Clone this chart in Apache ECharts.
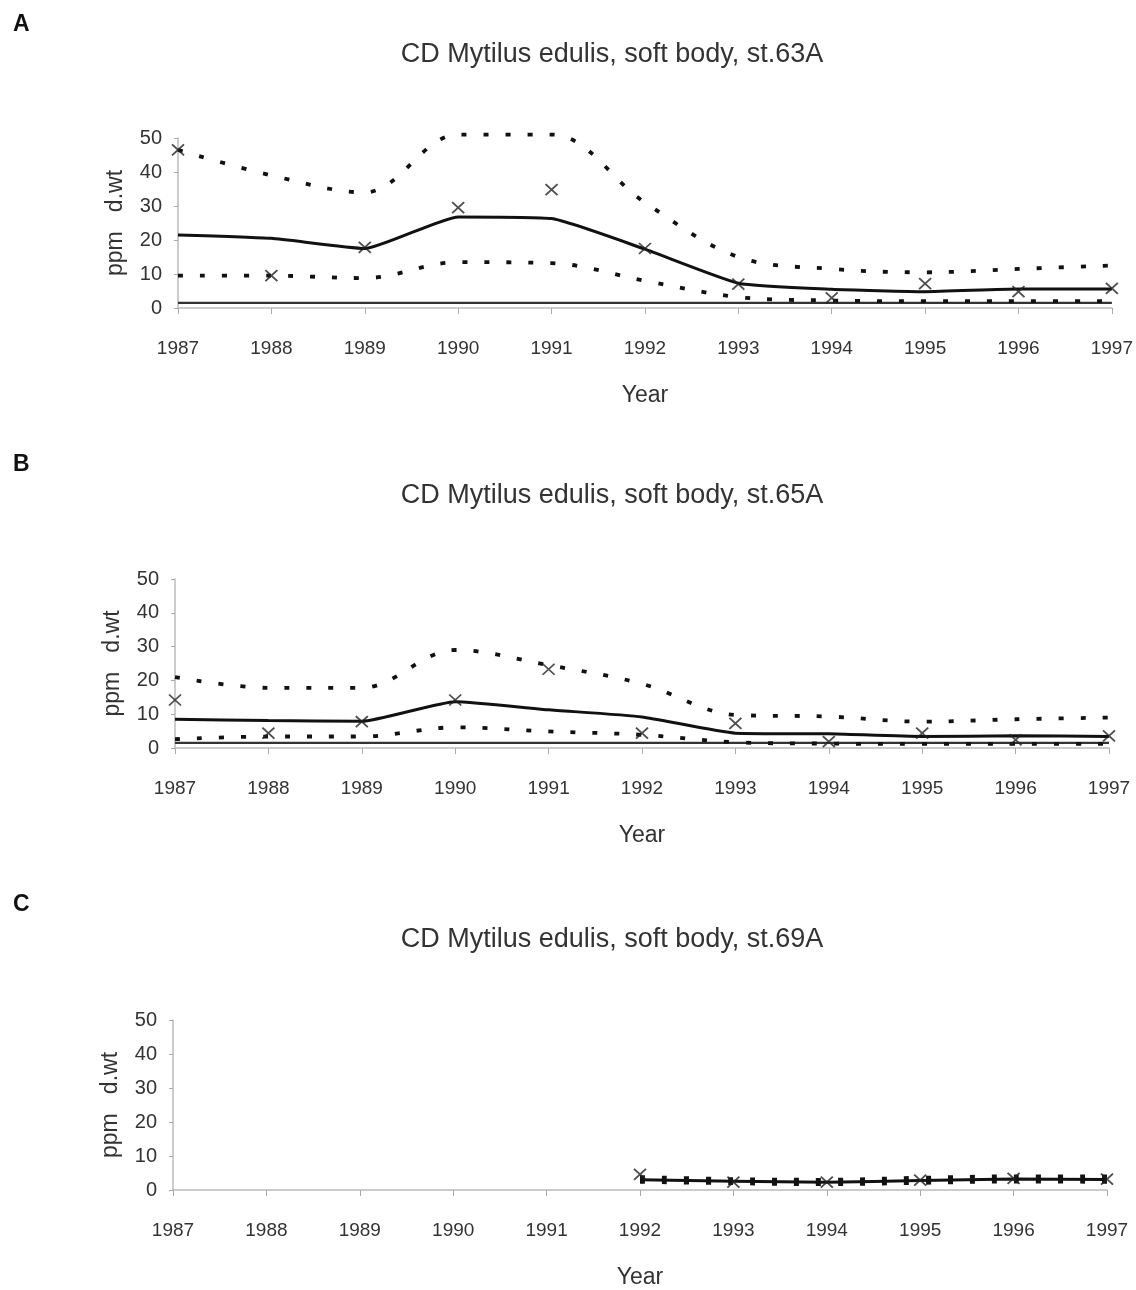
<!DOCTYPE html>
<html>
<head>
<meta charset="utf-8">
<script src="https://cdn.jsdelivr.net/npm/echarts@6/dist/echarts.min.js"></script>
<style>
html,body{margin:0;padding:0;background:#fff;}
#chart{width:1136px;height:1290px;}
</style>
</head>
<body>
<div id="chart"></div>
<script>
// ---- data ----
const years = ['1987','1988','1989','1990','1991','1992','1993','1994','1995','1996','1997'];
const yTicks = [0, 10, 20, 30, 40, 50];

const panelLetters = ['A', 'B', 'C'];
const panelTitles = [
  'CD Mytilus edulis, soft body, st.63A',
  'CD Mytilus edulis, soft body, st.65A',
  'CD Mytilus edulis, soft body, st.69A'
];

// Panel A (st.63A)
const upperA = [46.5, 39, 34, 51, 51, 31, 15, 11.5, 10.5, 11.5, 12.5];
const meanA  = [21.5, 20.5, 17.5, 26.8, 26.3, 17.3, 7.3, 5.5, 4.8, 5.6, 5.6];
const lowerA = [9.5, 9.5, 8.8, 13.5, 13.2, 8, 3.2, 2.2, 2, 2, 2];
const obsA   = [46.5, 9.5, 17.8, 29.5, 34.8, 17.5, 7, 3, 7.2, 4.8, 5.8];
const refA   = [1.5, 1.5, 1.5, 1.5, 1.5, 1.5, 1.5, 1.5, 1.5, 1.5, 1.5];

// Panel B (st.65A)
const upperB = [21, 17.8, 17.8, 29, 24.5, 19, 9.8, 9.3, 7.8, 8.5, 9];
const meanB  = [8.5, 8.1, 7.9, 13.7, 11.3, 9.2, 4.4, 4.2, 3.4, 3.6, 3.4];
const lowerB = [2.6, 3.4, 3.4, 6.1, 4.9, 3.9, 1.7, 1.3, 1.2, 1.2, 1.2];
const obsB   = [14.2, 4.4, 7.8, 14.2, 23.3, 4.4, 7.3, 1.9, 4.4, 2.4, 3.6];
const refB   = [1.5, 1.5, 1.5, 1.5, 1.5, 1.5, 1.5, 1.5, 1.5, 1.5, 1.5];

// Panel C (st.69A) - data only from 1992
const upperC = [null, null, null, null, null, 3.8, 3.2, 3.0, 3.6, 4.0, 4.0];
const meanC  = [null, null, null, null, null, 3.0, 2.6, 2.3, 2.8, 3.2, 3.1];
const lowerC = [null, null, null, null, null, 2.4, 2.0, 1.7, 2.1, 2.5, 2.4];
const obsC   = [null, null, null, null, null, 4.6, 2.3, 2.3, 2.9, 3.4, 3.2];

// ---- layout (styles only) ----
const FONT = "'Liberation Sans', Arial, sans-serif";
const grids = [
  {left: 178, width: 934, top: 138, height: 170},
  {left: 175, width: 934, top: 579, height: 169},
  {left: 173, width: 934, top: 1020, height: 172}
];
const letterY = [25, 465, 905];
const titleY = [55, 496, 940];

const panels = [
  {upper: upperA, mean: meanA, lower: lowerA, obs: obsA, ref: refA},
  {upper: upperB, mean: meanB, lower: lowerB, obs: obsB, ref: refB},
  {upper: upperC, mean: meanC, lower: lowerC, obs: obsC, ref: null}
];

const xAxes = [], yAxes = [], series = [], graphics = [];
const xPath = 'path://M0,0L10,10M10,0L0,10';

panels.forEach((p, i) => {
  xAxes.push({
    gridIndex: i, type: 'category', data: years, boundaryGap: false,
    name: 'Year', nameLocation: 'middle', nameGap: 76,
    nameTextStyle: {fontFamily: FONT, fontSize: 23, color: '#333'},
    axisLine: {show: true, lineStyle: {color: '#bbb', width: 1.5}},
    axisTick: {show: true, length: 6, lineStyle: {color: '#aaa'}},
    axisLabel: {fontFamily: FONT, fontSize: 19, color: '#333', margin: 31},
    splitLine: {show: false}
  });
  yAxes.push({
    gridIndex: i, type: 'value', min: yTicks[0], max: yTicks[yTicks.length - 1], interval: 10,
    name: 'ppm   d.wt', nameLocation: 'middle', nameGap: 51, nameRotate: 90,
    nameTextStyle: {fontFamily: FONT, fontSize: 23, color: '#333'},
    axisLine: {show: true, lineStyle: {color: '#bbb', width: 1.5}},
    axisTick: {show: true, length: 4, lineStyle: {color: '#aaa'}},
    axisLabel: {fontFamily: FONT, fontSize: 20, color: '#333', margin: 16},
    splitLine: {show: false}
  });
  const dashed = {color: '#111', width: 3.8, type: [5, 17], cap: 'butt'};
  series.push({
    type: 'line', xAxisIndex: i, yAxisIndex: i, data: p.upper, smooth: 0.35, clip: false,
    showSymbol: false, lineStyle: dashed, z: 3
  });
  series.push({
    type: 'line', xAxisIndex: i, yAxisIndex: i, data: p.lower, smooth: 0.35, clip: false,
    showSymbol: false, lineStyle: dashed, z: 3
  });
  series.push({
    type: 'line', xAxisIndex: i, yAxisIndex: i, data: p.mean, smooth: 0.15, clip: false,
    showSymbol: false, lineStyle: {color: '#111', width: 3}, z: 4
  });
  if (p.ref) {
    series.push({
      type: 'line', xAxisIndex: i, yAxisIndex: i, data: p.ref,
      showSymbol: false, lineStyle: {color: '#333', width: 2.2}, z: 2
    });
  }
  series.push({
    type: 'scatter', xAxisIndex: i, yAxisIndex: i, data: p.obs, clip: false,
    symbol: xPath, symbolSize: [12, 11],
    itemStyle: {color: 'rgba(0,0,0,0)', borderColor: '#222', borderWidth: 1.8}, z: 5
  });
  graphics.push({
    type: 'text', x: 13, y: letterY[i],
    style: {text: panelLetters[i], font: "bold 23px 'Liberation Sans', Arial, sans-serif", fill: '#111', textVerticalAlign: 'middle'}
  });
  graphics.push({
    type: 'text', x: 612, y: titleY[i],
    style: {text: panelTitles[i], font: "27px " + FONT, fill: '#333', textAlign: 'center', textVerticalAlign: 'middle'}
  });
});

const chart = echarts.init(document.getElementById('chart'), null, {renderer: 'canvas'});
chart.setOption({
  animation: false,
  backgroundColor: '#fff',
  grid: grids,
  xAxis: xAxes,
  yAxis: yAxes,
  series: series,
  graphic: graphics
});
</script>
</body>
</html>
